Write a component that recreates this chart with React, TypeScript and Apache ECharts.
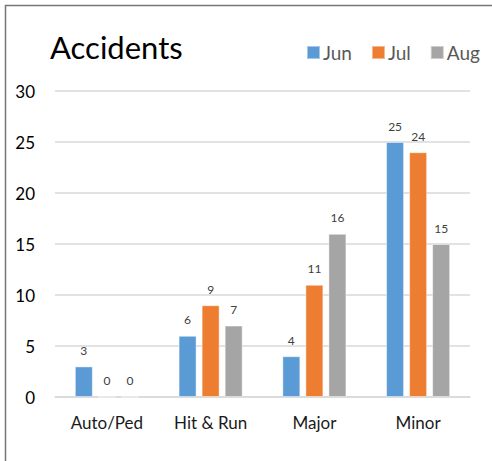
import React, { useEffect, useRef } from "react";
import * as echarts from "echarts";

const categories = ["Auto/Ped", "Hit & Run", "Major", "Minor"];
const seriesNames = ["Jun", "Jul", "Aug"];
const junValues = [3, 6, 4, 25];
const julValues = [0, 9, 11, 24];
const augValues = [0, 7, 16, 15];
const colors = ["#5b9bd5", "#ed7d31", "#a5a5a5"];

const FONT = "Lato, 'Open Sans', sans-serif";

export default function App() {
  const ref = useRef<HTMLDivElement>(null);
  useEffect(() => {
    if (!ref.current) return;
    const chart = echarts.init(ref.current, undefined, { renderer: "svg" });
    const values = [junValues, julValues, augValues];
    chart.setOption({
      animation: false,
      backgroundColor: "#ffffff",
      textStyle: { fontFamily: FONT },
      title: {
        text: "Accidents",
        left: 45,
        top: 26,
        textStyle: { fontSize: 31, fontWeight: "normal", color: "#000000", fontFamily: FONT },
      },
      legend: {
        data: seriesNames,
        left: 301,
        top: 38,
        itemWidth: 13,
        itemHeight: 13,
        itemGap: 19,
        icon: "rect",
        textStyle: { fontSize: 19, color: "#595959", fontFamily: FONT, padding: [0, 0, 0, -2] },
      },
      graphic: [
        {
          type: "rect",
          shape: { x: 5.5, y: 5.5, width: 700, height: 700 },
          style: { fill: "none", stroke: "#767676", lineWidth: 1.5 },
          silent: true,
        },
      ],
      grid: { left: 55, right: 22, top: 91, bottom: 64, containLabel: false },
      xAxis: {
        type: "category",
        data: categories,
        axisLine: { lineStyle: { color: "#d9d9d9", width: 1.5 } },
        axisTick: { show: false },
        axisLabel: { fontSize: 17, color: "#1a1a1a", margin: 17, fontFamily: FONT },
      },
      yAxis: {
        type: "value",
        min: 0,
        max: 30,
        interval: 5,
        axisLine: { show: false },
        axisTick: { show: false },
        axisLabel: { fontSize: 17, color: "#000000", margin: 20, fontFamily: FONT },
        splitLine: { lineStyle: { color: "#d9d9d9", width: 1.5 } },
      },
      series: seriesNames.map((name, i) => ({
        name,
        type: "bar",
        data: values[i],
        barWidth: 18,
        barGap: "28%",
        itemStyle: { color: colors[i], borderColor: "rgba(255,255,255,0.45)", borderWidth: 1 },
        label: {
          show: true,
          position: "top",
          distance: 10,
          fontSize: 12,
          color: "#404040",
          fontFamily: FONT,
        },
      })),
    });
    return () => chart.dispose();
  }, []);
  return (
    <div style={{ position: "fixed", left: 0, top: 0, width: 492, height: 461, background: "#fff" }}>
      <div ref={ref} style={{ width: 492, height: 461 }} />
    </div>
  );
}
